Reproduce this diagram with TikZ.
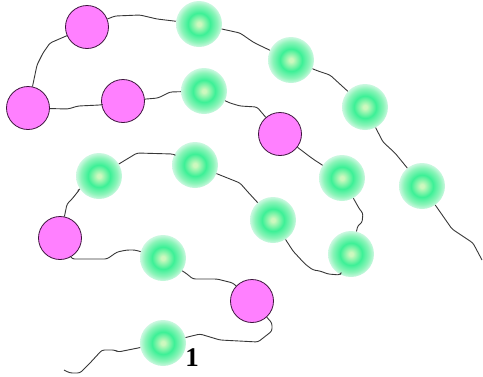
\documentclass[tikz,border=0pt]{standalone}
\usepackage{fontspec}
\newfontfamily\labfont{Liberation Serif}
\usetikzlibrary{shadings}
\definecolor{gA}{RGB}{205,248,190}
\definecolor{gB}{RGB}{60,240,150}
\definecolor{gC}{RGB}{140,244,185}
\definecolor{gD}{RGB}{205,248,225}
\definecolor{pinkfill}{RGB}{255,128,255}
\definecolor{pinkline}{RGB}{60,20,60}
\pgfdeclareradialshading{gball}{\pgfpoint{0bp}{0bp}}{color(0bp)=(gA); color(2bp)=(gA); color(12bp)=(gB); color(20bp)=(gC); color(25bp)=(gD); color(50bp)=(gD)}
\tikzset{
  gnode/.style={circle, inner sep=0pt, minimum size=46pt, shading=gball},
  pnode/.style={circle, inner sep=0pt, minimum size=43pt, fill=pinkfill, draw=pinkline, line width=0.8pt},
  wire/.style={draw=black!78, line width=0.9pt, line join=round, rounded corners=2.5pt}
}
\begin{document}
\begin{tikzpicture}[x=1pt,y=-1pt]
\useasboundingbox (0,0) rectangle (483,376);
% nodes
\node[gnode] (P) at (163,343) {};
\node[pnode] (O) at (252,301) {};
\node[gnode] (N) at (163,258) {};
\node[pnode] (M) at (60,238) {};
\node[gnode] (F) at (99,176) {};
\node[gnode] (G) at (195,165) {};
\node[gnode] (Q) at (273,220) {};
\node[gnode] (R) at (351,254) {};
\node[gnode] (K) at (342,178) {};
\node[pnode] (J) at (280,134) {};
\node[gnode] (E) at (204,91) {};
\node[pnode] (D) at (123,101) {};
\node[pnode] (C) at (28,108) {};
\node[pnode] (A) at (87,27) {};
\node[gnode] (B) at (199,24) {};
\node[gnode] (H) at (291,60) {};
\node[gnode] (I) at (365,107) {};
\node[gnode] (L) at (422,186) {};
\node[font=\labfont\bfseries\fontsize{27}{27}\selectfont, inner sep=0pt] (lab) at (192,358) {1};
\coordinate (s0) at (64,370);
\coordinate (s1) at (482,260);
% connectors
\draw[wire] (s0) -- (70,373) -- (80,373) -- (90,363) -- (102,350) -- (115,350) -- (118,352) -- (P);
\draw[wire] (P) -- (200,334) -- (220,340) -- (258,342) -- (272,331) -- (272,323) -- (O);
\draw[wire] (O) -- (233,283) -- (217,279) -- (193,279) -- (187,274) -- (N);
\draw[wire] (N) -- (135,250) -- (127,250) -- (117,252) -- (107,259) -- (72,259) -- (M);
\draw[wire] (M) -- (67,204) -- (72,199) -- (80,189) -- (F);
\draw[wire] (F) -- (137,153) -- (173,154) -- (G);
\draw[wire] (G) -- (240,183) -- (247,191) -- (258,203) -- (Q);
\draw[wire] (Q) -- (293,251) -- (305,264) -- (313,270) -- (320,271) -- (328,274) -- (340,275) -- (R);
\draw[wire] (R) -- (358,225) -- (362,223) -- (363,213) -- (360,210) -- (K);
\draw[wire] (K) -- (313,159) -- (305,153) -- (J);
\draw[wire] (J) -- (257,107) -- (240,106) -- (230,103) -- (E);
\draw[wire] (E) -- (170,92) -- (158,98) -- (D);
\draw[wire] (D) -- (100,105) -- (78,106) -- (68,109) -- (C);
\draw[wire] (C) -- (37,65) -- (43,53) -- (50,43) -- (A);
\draw[wire] (A) -- (115,16) -- (140,15) -- (157,19) -- (B);
\draw[wire] (B) -- (240,33) -- (253,42) -- (263,47) -- (H);
\draw[wire] (H) -- (318,71) -- (330,75) -- (I);
\draw[wire] (I) -- (383,142) -- (395,153) -- (L);
\draw[wire] (L) -- (452,229) -- (473,243) -- (s1);
\end{tikzpicture}
\end{document}
